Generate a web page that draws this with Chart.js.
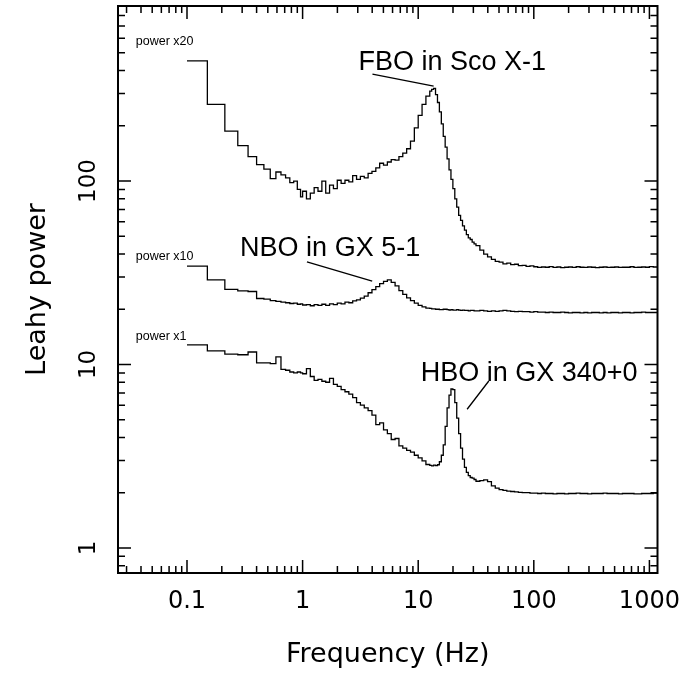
<!DOCTYPE html>
<html>
<head>
<meta charset="utf-8">
<script src="https://cdn.jsdelivr.net/npm/chart.js@4.4.1/dist/chart.umd.min.js"></script>
<style>
  html, body { margin: 0; padding: 0; background: #fff; }
  canvas { display: block; }
</style>
</head>
<body>
<canvas id="psd" width="684" height="675"></canvas>
<script>
"use strict";

// frequency bin edges in Hz (last entry closes the last bin)
const freqEdges = [
  0.1, 0.15, 0.2125, 0.275, 0.3375, 0.4, 0.4625, 0.525, 0.5875, 0.65, 0.7125, 0.775, 0.8375, 0.9, 0.96,
  1.000, 1.080, 1.166, 1.259, 1.359, 1.468, 1.585, 1.711, 1.848, 1.995, 2.154, 2.326, 2.512, 2.712, 2.929,
  3.162, 3.415, 3.687, 3.981, 4.299, 4.642, 5.012, 5.412, 5.843, 6.310, 6.813, 7.356, 7.943, 8.577, 9.261,
  10.00, 10.80, 11.66,
  12.59, 13.08, 13.59, 14.12, 14.68, 15.25, 15.85, 16.47, 17.11, 17.78, 18.48, 19.20,
  19.95, 20.73, 21.54, 22.39, 23.26, 24.17, 25.12, 26.10, 27.12, 28.18, 29.29, 30.43,
  31.62, 34.15, 36.87, 39.81, 42.99, 46.42, 50.12, 54.12, 58.43, 63.10, 68.13, 73.56, 79.43, 85.77, 92.61,
  100.0, 108.0, 116.6, 125.9, 135.9, 146.8, 158.5, 171.1, 184.8, 199.5, 215.4, 232.6, 251.2, 271.2, 292.9,
  316.2, 341.5, 368.7, 398.1, 429.9, 464.2, 501.2, 541.2, 584.3, 631.0, 681.3, 735.6, 794.3, 857.7, 926.1,
  1000, 1080, 1170
];

// Sco X-1, power x20
const fboPower = [
  452, 262, 187, 156, 136, 123, 116, 103, 112, 108, 104, 98, 100, 90, 82,
  88, 80, 86, 92, 88, 100, 86, 95, 91, 101, 97, 101, 99, 107, 102,
  106, 104, 110, 113, 118, 125, 122, 127, 131, 130, 136, 142, 150, 165, 195,
  228, 262, 290,
  309, 316, 320, 296, 268, 238, 205, 175, 153, 132, 115, 102,
  91, 80, 72, 65, 61, 57, 54, 51, 49, 48, 46.5, 45.5,
  44.5, 42, 40, 38.6, 37.4, 36.5, 36.1, 35.4, 35.7, 35.0, 35.2, 34.6, 34.7, 34.3, 34.5,
  34.1, 33.8, 34.0, 33.9, 34.2, 33.8, 34.0, 33.7, 33.9, 34.0, 33.8, 34.1, 33.9, 33.8, 34.0,
  33.9, 33.7, 33.9, 34.0, 33.8, 33.9, 34.0, 33.8, 33.9, 33.9, 34.1, 33.8, 33.9, 34.0, 33.9,
  34.2, 34.0
];

// GX 5-1, power x10
const nboPower = [
  34.4, 28.9, 25.7, 25.2, 25.0, 22.9, 22.7, 22.3, 22.1, 21.9, 21.7, 21.5, 21.6, 21.3, 21.4,
  21.1, 21.2, 20.9, 21.2, 21.0, 21.3, 21.0, 21.4, 21.2, 21.6, 21.4, 21.9, 21.7, 22.2, 22.5,
  23.0, 23.6, 24.6, 25.6, 26.6, 27.6, 28.4, 28.9, 28.0, 26.8, 25.3, 24.1, 23.1, 22.3, 21.6,
  21.0, 20.6, 20.3,
  20.2, 20.1, 20.1, 20.0, 20.0, 19.9, 19.9, 20.0, 20.0, 19.9, 19.8, 19.9,
  19.8, 19.8, 19.9, 19.8, 19.7, 19.8, 19.7, 19.7, 19.6, 19.7, 19.7, 19.6,
  19.6, 19.7, 19.6, 19.5, 19.6, 19.5, 19.6, 19.7, 19.6, 19.5, 19.4, 19.5, 19.4, 19.4, 19.3,
  19.4, 19.3, 19.3, 19.2, 19.3, 19.2, 19.2, 19.3, 19.2, 19.1, 19.2, 19.2, 19.1, 19.2, 19.1,
  19.2, 19.2, 19.1, 19.2, 19.1, 19.2, 19.2, 19.1, 19.2, 19.2, 19.1, 19.2, 19.2, 19.3, 19.2,
  19.2, 19.2
];

// GX 340+0, power x1
const hboPower = [
  12.8, 11.85, 11.4, 11.3, 11.7, 10.2, 10.2, 10.1, 11.0, 9.4, 9.3, 9.1, 9.0, 9.1, 9.0,
  8.9, 9.5, 8.6, 8.2, 8.3, 8.1, 8.0, 8.4, 7.8, 7.6, 7.3, 7.1, 6.9, 6.6, 6.2,
  6.0, 5.8, 5.6, 5.3, 4.7, 4.8, 4.4, 4.2, 3.9, 3.95, 3.6, 3.5, 3.4, 3.33, 3.2,
  3.1, 2.98, 2.85,
  2.82, 2.80, 2.83, 2.81, 2.84, 2.95, 3.2, 3.65, 4.6, 5.8, 6.8, 7.35,
  7.3, 6.2, 5.1, 4.2, 3.5, 3.05, 2.75, 2.58, 2.48, 2.42, 2.40, 2.36,
  2.31, 2.33, 2.35, 2.30, 2.18, 2.12, 2.08, 2.06, 2.04, 2.03, 2.02, 2.01, 2.00, 2.00, 1.99,
  1.99, 1.98, 1.99, 1.98, 1.98, 1.97, 1.98, 1.98, 1.97, 1.98, 1.98, 1.99, 1.98, 1.98, 1.97,
  1.98, 1.98, 1.98, 1.99, 1.98, 1.98, 1.98, 1.97, 1.98, 1.98, 1.98, 1.97, 1.97, 1.98, 1.98,
  1.98, 1.99
];

const xTickValues = [0.1, 1, 10, 100, 1000];
const xTickLabels = ['0.1', '1', '10', '100', '1000'];
const yTickValues = [1, 10, 100];
const yTickLabels = ['1', '10', '100'];

const AXIS_FONT = 'DejaVu Sans';
const NOTE_FONT = '"Liberation Sans", Arial, sans-serif';

// histogram: each value holds from its left edge to the next edge
function toSteps(power) {
  const pts = power.map((p, i) => ({ x: freqEdges[i], y: p }));
  pts.push({ x: freqEdges[power.length], y: power[power.length - 1] });
  return pts;
}

function series(power) {
  return {
    data: toSteps(power),
    borderColor: '#000',
    borderWidth: 1.3,
    pointRadius: 0,
    stepped: 'before',
    fill: false
  };
}

// annotation anchors in data units (Hz, power)
const notes = [
  { text: 'power x20', f: 0.0361, p: 551, size: 12.5 },
  { text: 'power x10', f: 0.0361, p: 37.1, size: 12.5 },
  { text: 'power x1', f: 0.0361, p: 13.6, size: 12.5 },
  { text: 'FBO in Sco X-1', f: 3.04, p: 403, size: 27 },
  { text: 'NBO in GX 5-1', f: 0.288, p: 39.0, size: 27 },
  { text: 'HBO in GX 340+0', f: 10.5, p: 8.13, size: 27 }
];
const pointers = [
  [4.02, 383, 13.6, 329],
  [1.09, 36.3, 4.0, 28.5],
  [40.8, 8.13, 26.5, 5.70]
];

// PGPLOT-style box: frame, inward ticks on all sides, rotated y labels, notes
const boxPlugin = {
  id: 'box',
  afterDraw(chart) {
    const { ctx, chartArea: a, scales: { x, y } } = chart;
    ctx.save();
    ctx.strokeStyle = '#000';
    ctx.fillStyle = '#000';

    ctx.lineWidth = 2;
    ctx.strokeRect(a.left, a.top, a.right - a.left, a.bottom - a.top);

    ctx.lineWidth = 1.5;
    ctx.beginPath();
    for (let e = -2; e <= 3; e++) {
      for (let m = 1; m <= 9; m++) {
        const v = m * Math.pow(10, e);
        const len = m === 1 ? 13 : 7;
        if (v >= x.min && v <= x.max) {
          const px = x.getPixelForValue(v);
          ctx.moveTo(px, a.bottom); ctx.lineTo(px, a.bottom - len);
          ctx.moveTo(px, a.top); ctx.lineTo(px, a.top + len);
        }
        if (v >= y.min && v <= y.max) {
          const py = y.getPixelForValue(v);
          ctx.moveTo(a.left, py); ctx.lineTo(a.left + len, py);
          ctx.moveTo(a.right, py); ctx.lineTo(a.right - len, py);
        }
      }
    }
    ctx.stroke();

    // y tick labels, reading bottom to top
    ctx.font = '23px "' + AXIS_FONT + '"';
    ctx.textAlign = 'center';
    ctx.textBaseline = 'alphabetic';
    y.ticks.forEach((t, i) => {
      ctx.save();
      ctx.translate(a.left - 23, y.getPixelForValue(t.value));
      ctx.rotate(-Math.PI / 2);
      ctx.fillText(yTickLabels[i], 0, 0);
      ctx.restore();
    });

    ctx.textAlign = 'left';
    notes.forEach(n => {
      ctx.font = n.size + 'px ' + NOTE_FONT;
      ctx.fillText(n.text, x.getPixelForValue(n.f), y.getPixelForValue(n.p));
    });

    ctx.lineWidth = 1.3;
    ctx.beginPath();
    pointers.forEach(l => {
      ctx.moveTo(x.getPixelForValue(l[0]), y.getPixelForValue(l[1]));
      ctx.lineTo(x.getPixelForValue(l[2]), y.getPixelForValue(l[3]));
    });
    ctx.stroke();
    ctx.restore();
  }
};

new Chart(document.getElementById('psd'), {
  type: 'line',
  data: { datasets: [series(fboPower), series(nboPower), series(hboPower)] },
  options: {
    responsive: false,
    animation: false,
    devicePixelRatio: 1,
    layout: { padding: { top: 6, right: 26.5, bottom: 0, left: 0 } },
    plugins: { legend: { display: false }, tooltip: { enabled: false } },
    scales: {
      x: {
        type: 'logarithmic',
        position: 'bottom',
        min: 0.0253,
        max: 1175,
        bounds: 'data',
        grid: { display: false, drawTicks: false },
        border: { display: false },
        afterBuildTicks: s => { s.ticks = xTickValues.map(v => ({ value: v })); },
        ticks: {
          autoSkip: false, maxRotation: 0, minRotation: 0, padding: 14, color: '#000',
          font: { family: AXIS_FONT, size: 24 },
          callback: (v, i) => xTickLabels[i]
        },
        title: {
          display: true, text: 'Frequency (Hz)', color: '#000',
          font: { family: AXIS_FONT, size: 27 },
          padding: { top: 0, bottom: 4 }
        },
        afterFit: s => { s.height = 102; s.paddingLeft = 0; s.paddingRight = 0; }
      },
      y: {
        type: 'logarithmic',
        position: 'left',
        min: 0.73,
        max: 900,
        bounds: 'data',
        grid: { display: false, drawTicks: false },
        border: { display: false },
        afterBuildTicks: s => { s.ticks = yTickValues.map(v => ({ value: v })); },
        ticks: { display: false },
        title: {
          display: true, text: 'Leahy power', color: '#000',
          font: { family: AXIS_FONT, size: 27 },
          padding: { top: 22, bottom: 0 }
        },
        afterFit: s => { s.width = 118; }
      }
    }
  },
  plugins: [boxPlugin]
});
</script>
</body>
</html>
